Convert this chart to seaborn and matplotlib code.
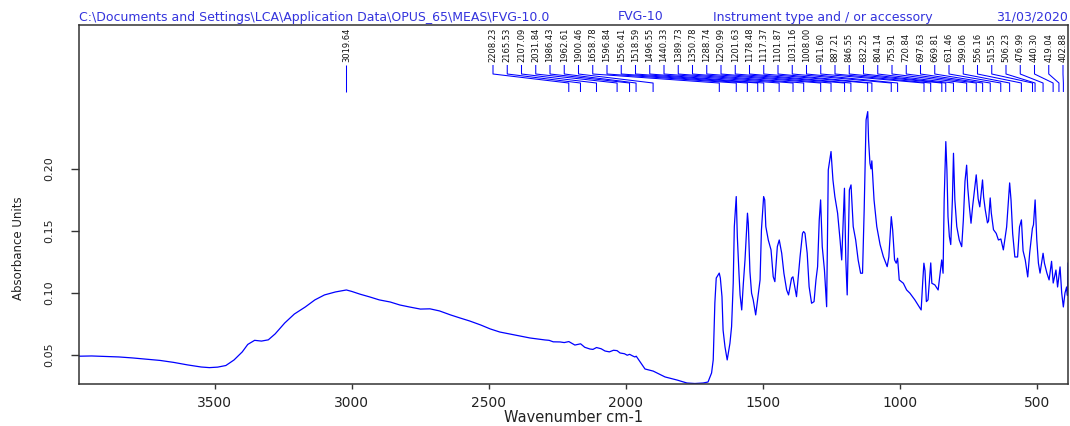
import matplotlib
matplotlib.use("Agg")
import matplotlib.pyplot as plt
import seaborn as sns
import pandas as pd
from matplotlib.transforms import blended_transform_factory

# ---------------- data ----------------
wavenumber = [
    3996, 3950, 3900, 3850, 3800, 3750, 3700, 3650, 3600, 3550, 3520, 3490, 3460, 3430,
    3400, 3380, 3355, 3330, 3305, 3280, 3245, 3210, 3170, 3135, 3100, 3060, 3020, 3000,
    2970, 2935, 2900, 2860, 2825, 2790, 2750, 2715, 2680, 2640, 2605, 2570, 2530, 2495,
    2460, 2405, 2350, 2295, 2280, 2265, 2240, 2225, 2208, 2186, 2165, 2150, 2131, 2120,
    2107, 2090, 2076, 2060, 2045, 2032, 2021, 2005, 1995, 1986, 1975,
    1967, 1962, 1930, 1900, 1857, 1813, 1777, 1748, 1718, 1700, 1687, 1681, 1675, 1670,
    1659, 1655, 1649, 1645, 1638, 1630, 1620, 1614, 1608, 1604, 1597, 1593, 1587, 1583,
    1577, 1571, 1565, 1556, 1553, 1547, 1541, 1535, 1526, 1519, 1510, 1505, 1497, 1493,
    1489, 1480, 1470, 1462, 1456, 1447, 1440, 1431, 1423, 1413, 1406, 1395, 1390, 1377,
    1364, 1355, 1351, 1346, 1338, 1331, 1322, 1313, 1306, 1300, 1294, 1289, 1283, 1275,
    1267, 1261, 1251, 1244, 1237, 1227, 1218, 1212, 1202, 1197, 1192, 1184, 1178, 1170,
    1161, 1152, 1143, 1136, 1130, 1123, 1117, 1114, 1109, 1105, 1102, 1094, 1084, 1072,
    1060, 1046, 1040, 1031, 1026, 1019, 1013, 1008, 1002, 987, 975, 963, 945, 922,
    916, 912, 908, 903, 897, 887, 883, 872, 860, 847, 842, 838, 832, 828,
    824, 819, 814, 808, 804, 799, 792, 783, 774, 768, 762, 756, 752, 746,
    740, 734, 721, 714, 708, 698, 694, 688, 680, 676, 670, 666, 658, 648,
    640, 631, 622, 610, 599, 594, 588, 580, 570, 563, 556, 550, 542, 533,
    526, 516, 512, 506, 500, 494, 488, 477, 472, 463, 455, 446, 440, 430,
    424, 415, 409, 403, 397, 391, 388, 386,
]
absorbance = [
    0.0490, 0.0492, 0.0488, 0.0484, 0.0476, 0.0466, 0.0456, 0.0440, 0.0420, 0.0403, 0.0398, 0.0402, 0.0415, 0.0460,
    0.0525, 0.0585, 0.0618, 0.0612, 0.0622, 0.0670, 0.0758, 0.0830, 0.0887, 0.0944, 0.0984, 0.1008, 0.1024, 0.1012,
    0.0990, 0.0968, 0.0944, 0.0927, 0.0903, 0.0887, 0.0870, 0.0872, 0.0855, 0.0823, 0.0798, 0.0774, 0.0742, 0.0710,
    0.0685, 0.0661, 0.0637, 0.0621, 0.0618, 0.0606, 0.0605, 0.0600, 0.0608, 0.0580, 0.0590, 0.0562, 0.0548, 0.0545,
    0.0560, 0.0550, 0.0532, 0.0525, 0.0538, 0.0535, 0.0516, 0.0510, 0.0498, 0.0505, 0.0492,
    0.0484, 0.0490, 0.0387, 0.0370, 0.0323, 0.0298, 0.0274, 0.0270, 0.0274, 0.0282, 0.0355, 0.0460, 0.0920, 0.1120,
    0.1160, 0.1120, 0.0970, 0.0700, 0.0565, 0.0460, 0.0594, 0.0728, 0.1078, 0.1535, 0.1777, 0.1454, 0.1159, 0.0984,
    0.0863, 0.1078, 0.1266, 0.1643, 0.1562, 0.1172, 0.0998, 0.0944, 0.0823, 0.0944, 0.1105, 0.1508, 0.1777, 0.1750,
    0.1535, 0.1427, 0.1347, 0.1131, 0.1091, 0.1373, 0.1427, 0.1320, 0.1159, 0.1024, 0.0984, 0.1119, 0.1130, 0.0970,
    0.1293, 0.1481, 0.1495, 0.1481, 0.1320, 0.1051, 0.0917, 0.0930, 0.1105, 0.1212, 0.1589, 0.1750, 0.1373, 0.1185,
    0.0889, 0.1992, 0.2140, 0.1911, 0.1777, 0.1643, 0.1427, 0.1266, 0.1844, 0.1266, 0.0984, 0.1831, 0.1871, 0.1535,
    0.1427, 0.1266, 0.1159, 0.1159, 0.1669, 0.2395, 0.2462, 0.2234, 0.2046, 0.2000, 0.2065, 0.1750, 0.1535, 0.1390,
    0.1293, 0.1212, 0.1290, 0.1615, 0.1508, 0.1266, 0.1240, 0.1280, 0.1105, 0.1078, 0.1024, 0.0998, 0.0944, 0.0863,
    0.1100, 0.1240, 0.1180, 0.0930, 0.0944, 0.1242, 0.1078, 0.1065, 0.1024, 0.1266, 0.1159, 0.1750, 0.2220, 0.1992,
    0.1615, 0.1454, 0.1390, 0.1750, 0.2126, 0.1750, 0.1535, 0.1427, 0.1373, 0.1589, 0.1900, 0.2030, 0.1850, 0.1696,
    0.1562, 0.1700, 0.1952, 0.1760, 0.1694, 0.1911, 0.1774, 0.1670, 0.1565, 0.1580, 0.1766, 0.1645, 0.1510, 0.1480,
    0.1427, 0.1435, 0.1347, 0.1532, 0.1887, 0.1750, 0.1480, 0.1290, 0.1290, 0.1532, 0.1589, 0.1340, 0.1266, 0.1129,
    0.1320, 0.1520, 0.1550, 0.1750, 0.1430, 0.1240, 0.1160, 0.1320, 0.1240, 0.1160, 0.1105, 0.1255, 0.1080, 0.1185,
    0.1048, 0.1210, 0.1000, 0.0887, 0.1000, 0.1048, 0.0980, 0.1242,
]

main_peak_label = "3019.64"
peak_labels = [
    "2208.23", "2165.53", "2107.09", "2031.84", "1986.43", "1962.61", "1900.46",
    "1658.78", "1596.84", "1556.41", "1518.59", "1496.55", "1440.33", "1389.73",
    "1350.78", "1288.74", "1250.99", "1201.63", "1178.48", "1117.37", "1101.87",
    "1031.16", "1008.00", "911.60", "887.21", "846.55", "832.25", "804.14",
    "755.91", "720.84", "697.63", "669.81", "631.46", "599.06", "556.16",
    "515.55", "506.23", "476.99", "440.30", "419.04", "402.88",
]
x_ticks = [3500, 3000, 2500, 2000, 1500, 1000, 500]
y_ticks = [0.05, 0.10, 0.15, 0.20]
y_tick_labels = ["0.05", "0.10", "0.15", "0.20"]

header_path = r"C:\Documents and Settings\LCA\Application Data\OPUS_65\MEAS\FVG-10.0"
header_sample = "FVG-10"
header_instrument = "Instrument type and / or accessory"
header_date = "31/03/2020"

# ---------------- figure ----------------
sns.set_theme(style="ticks")
plt.rcParams["font.family"] = ["DejaVu Sans"]

W, H = 1070, 426
fig = plt.figure(figsize=(W / 100, H / 100), dpi=100)
fig.patch.set_facecolor("white")
ax = fig.add_axes([79 / W, 1 - 384 / H, 989 / W, 359 / H])
ax.set_facecolor("white")

df = pd.DataFrame({"Wavenumber": wavenumber, "Absorbance": absorbance})
sns.lineplot(data=df, x="Wavenumber", y="Absorbance", sort=False, estimator=None,
             color="#0000ff", lw=0.9, ax=ax)

ax.set_xlim(3996, 386)
ax.set_ylim(0.0266, 0.316)
ax.set_xticks(x_ticks)
ax.set_xticklabels([str(t) for t in x_ticks])
ax.set_yticks(y_ticks)
ax.set_yticklabels(y_tick_labels, rotation=90, va="center")

spine_col = "#333333"
for s in ax.spines.values():
    s.set_visible(True)
    s.set_color(spine_col)
    s.set_linewidth(1.1)
ax.tick_params(axis="x", direction="out", length=3.6, width=1.0, color=spine_col,
               labelsize=10, pad=5, labelcolor="#222222")
ax.tick_params(axis="y", direction="out", length=6, width=1.0, color=spine_col,
               labelsize=8, pad=12, labelcolor="#222222")

ax.set_xlabel("Wavenumber cm-1", fontsize=10.5, color="#222222")
ax.xaxis.set_label_coords(0.5, -0.072)
ax.set_ylabel("Absorbance Units", fontsize=8.5, color="#222222", va="center")
ax.yaxis.set_label_coords(-0.0607, 0.379)

# ---------------- peak labels ----------------
tr = blended_transform_factory(ax.transData, ax.transAxes)
tra = ax.transAxes
line_kw = dict(color="#0000ff", lw=0.75, solid_capstyle="butt")

y_text, y_top, y_knee, y_mid, y_bot = 0.897, 0.8886, 0.8635, 0.8384, 0.8134

mp = float(main_peak_label)
ax.plot([mp, mp], [y_top, y_bot], transform=tr, **line_kw)
ax.text(mp, y_text, main_peak_label, transform=tr, rotation=90, ha="center",
        va="bottom", fontsize=6, color="#111111")

n = len(peak_labels)
x0 = (493 - 79) / 989
x1 = (1063 - 79) / 989
for i, lab in enumerate(peak_labels):
    lx = x0 + (x1 - x0) * i / (n - 1)
    px_disp = ax.transData.transform((float(lab), 0))[0]
    px = ax.transAxes.inverted().transform((px_disp, 0))[0]
    ax.plot([lx, lx, px, px], [y_top, y_knee, y_mid, y_bot], transform=tra, **line_kw)
    ax.text(lx, y_text, lab, transform=tra, rotation=90, ha="center", va="bottom",
            fontsize=6, color="#111111")

# ---------------- header ----------------
hc = "#3333dd"
hy = 1 - 17 / H
fig.text(79 / W, hy, header_path, ha="left", va="center", fontsize=9, color=hc)
fig.text(618 / W, hy, header_sample, ha="left", va="center", fontsize=9, color=hc)
fig.text(713 / W, hy, header_instrument, ha="left", va="center", fontsize=9, color=hc)
fig.text(1068 / W, hy, header_date, ha="right", va="center", fontsize=9, color=hc)

fig.savefig("out.png", dpi=100, facecolor="white")
